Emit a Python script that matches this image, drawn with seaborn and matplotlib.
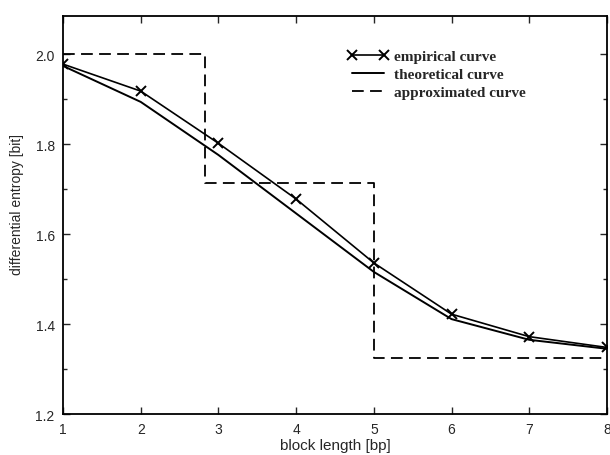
import matplotlib
matplotlib.use("Agg")
import matplotlib.pyplot as plt
import seaborn as sns
import pandas as pd
from matplotlib.ticker import MultipleLocator

block_length = [1, 2, 3, 4, 5, 6, 7, 8]
empirical = [1.978, 1.918, 1.802, 1.678, 1.536, 1.422, 1.372, 1.348]
theoretical = [1.974, 1.894, 1.776, 1.646, 1.516, 1.411, 1.365, 1.345]
approx_x = [1, 2.83, 2.83, 5, 5, 8]
approx_y = [2.0, 2.0, 1.714, 1.714, 1.325, 1.325]

sns.set_style("ticks")
plt.rcParams["font.family"] = ["Liberation Sans", "DejaVu Sans"]

fig = plt.figure(figsize=(6.1, 4.56), dpi=100)
ax = fig.add_axes([0.1033, 0.0899, 0.8917, 0.8728])

df_e = pd.DataFrame({"x": block_length, "y": empirical})
df_t = pd.DataFrame({"x": block_length, "y": theoretical})
df_a = pd.DataFrame({"x": approx_x, "y": approx_y})

sns.lineplot(data=df_e, x="x", y="y", ax=ax, color="black", lw=1.2,
             marker="x", markersize=7, markeredgewidth=1.4, markeredgecolor="black",
             label="empirical curve", sort=False, estimator=None)
sns.lineplot(data=df_t, x="x", y="y", ax=ax, color="black", lw=1.4,
             label="theoretical curve", sort=False, estimator=None)
sns.lineplot(data=df_a, x="x", y="y", ax=ax, color="black", lw=1.3,
             linestyle=(0, (6.5, 3.5)), label="approximated curve", sort=False,
             estimator=None)

ax.set_xlim(1, 8)
ax.set_ylim(1.2, 2.085)
ax.set_xticks(block_length)
ax.yaxis.set_major_locator(MultipleLocator(0.2))
ax.yaxis.set_minor_locator(MultipleLocator(0.1))
ax.yaxis.set_major_formatter(matplotlib.ticker.FormatStrFormatter("%.1f"))
ax.tick_params(which="both", direction="in", top=True, right=True, labelsize=10, width=1.0)
ax.tick_params(which="major", length=5, pad=6)
ax.tick_params(which="minor", length=3)
for s in ax.spines.values():
    s.set_linewidth(1.3)
    s.set_color("black")

ax.set_xlabel("block length [bp]", fontsize=11, labelpad=1)
ax.set_ylabel("differential entropy [bit]", fontsize=10)
ax.yaxis.set_label_coords(-0.072, 0.53)

leg = ax.legend(loc="upper left", bbox_to_anchor=(0.497, 0.95), frameon=False,
                numpoints=2, handlelength=2.7, handletextpad=0.35, labelspacing=0.28,
                prop={"family": "Liberation Serif", "weight": "bold", "size": 11})

fig.savefig("out.png", dpi=100)
